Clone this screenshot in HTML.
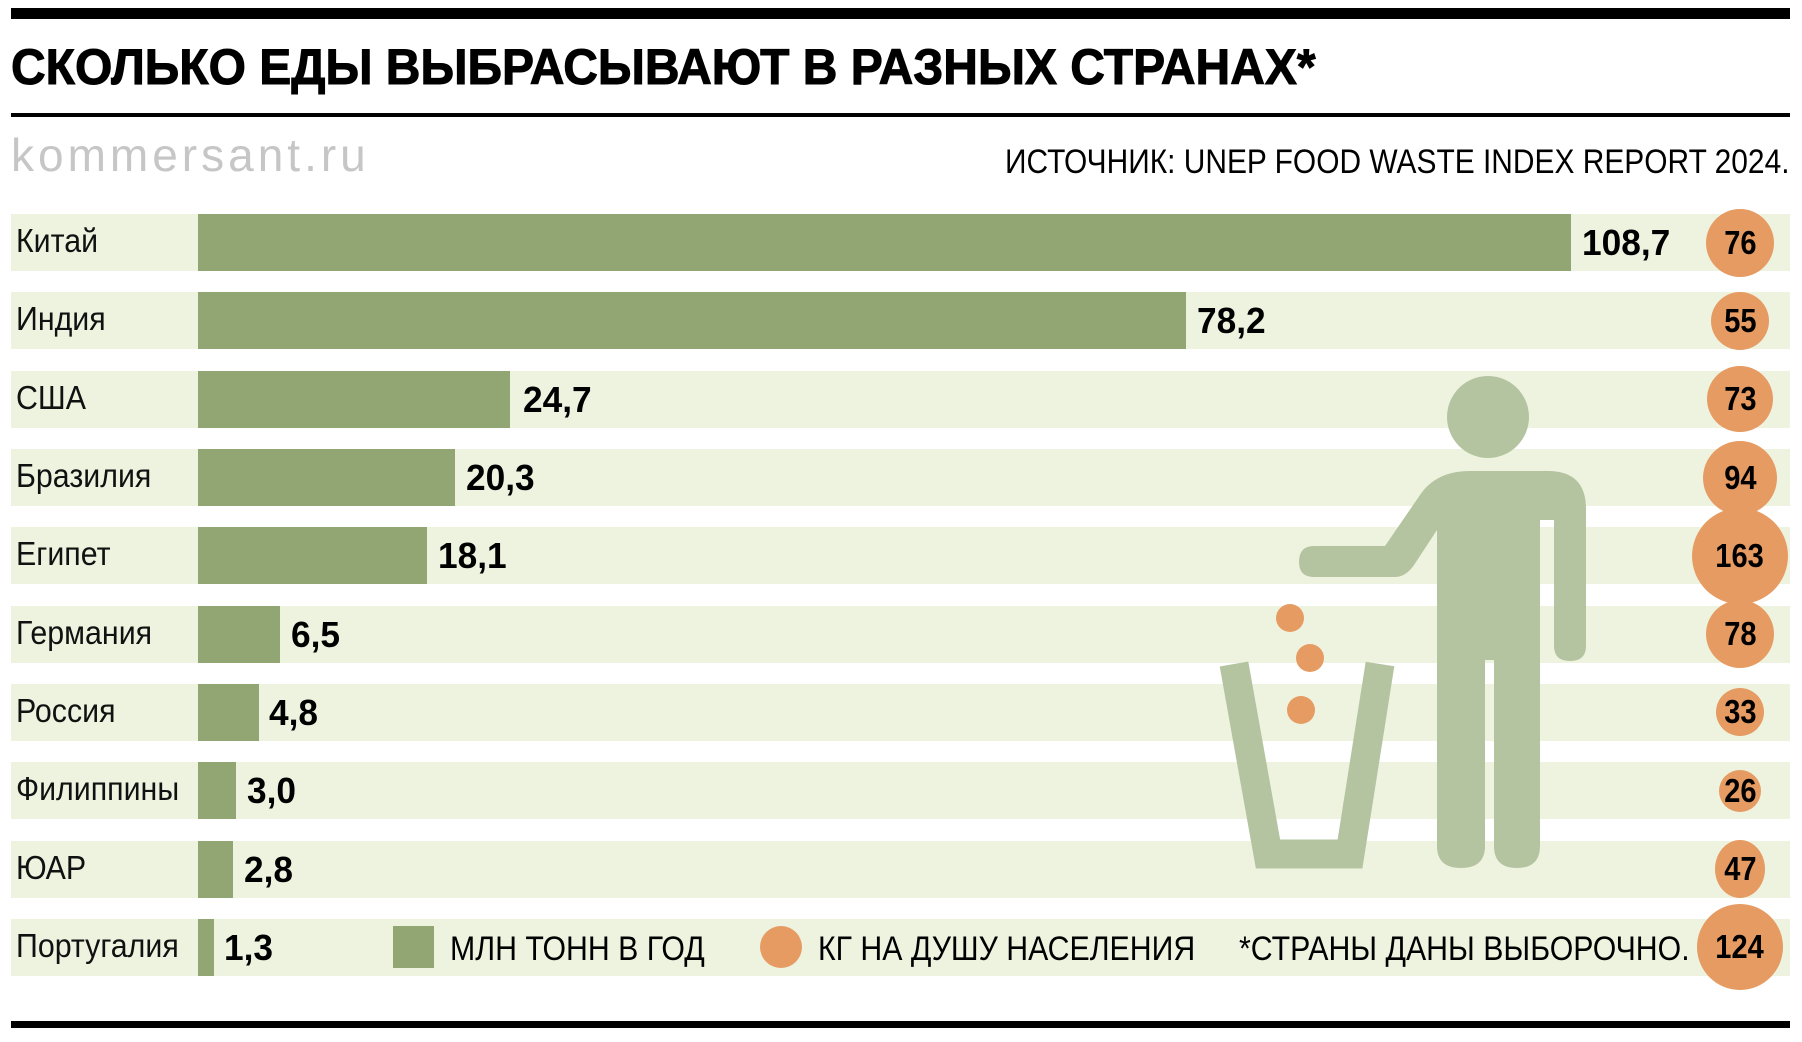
<!DOCTYPE html>
<html><head><meta charset="utf-8"><style>
body{margin:0;width:1802px;height:1042px;background:#fff;position:relative;overflow:hidden;font-family:"Liberation Sans",sans-serif}
.a{position:absolute}
.row{position:absolute;left:11px;width:1779px;height:57px;background:#eef3e0}
.lab{position:absolute;left:16px;font-size:33px;transform:scaleX(.92);transform-origin:left;color:#111;white-space:nowrap}
.bar{position:absolute;left:198px;height:57px;background:#91a673}
.val{position:absolute;font-size:36px;font-weight:bold;transform:scaleX(.98);transform-origin:left;white-space:nowrap}
.c{position:absolute;border-radius:50%;background:#e69b62;display:flex;align-items:center;justify-content:center;font-weight:bold;font-size:33px}
.c span{transform:scaleX(.88)}
.t{position:absolute;font-size:34px;transform:scaleX(.89);transform-origin:left;white-space:nowrap}
</style></head><body>
<div class="a" style="left:11px;top:8px;width:1779px;height:11px;background:#000"></div>
<div class="a" style="left:11px;top:38px;font-size:50px;font-weight:bold;transform:scaleX(.96);transform-origin:left;white-space:nowrap;-webkit-text-stroke:1px #000">СКОЛЬКО ЕДЫ ВЫБРАСЫВАЮТ В РАЗНЫХ СТРАНАХ*</div>
<div class="a" style="left:11px;top:113px;width:1779px;height:4px;background:#000"></div>
<div class="a" style="left:11px;top:128px;font-size:46px;color:#c6c6c6;letter-spacing:4px;white-space:nowrap">kommersant.ru</div>
<div class="a" style="right:12px;top:143px;font-size:34px;transform:scaleX(.88);transform-origin:right;white-space:nowrap">ИСТОЧНИК: UNEP FOOD WASTE INDEX REPORT 2024.</div>
<div class="a" style="left:11px;top:1021px;width:1779px;height:7px;background:#000"></div>

<div class="row" style="top:214px"></div>
<div class="row" style="top:292px"></div>
<div class="row" style="top:371px"></div>
<div class="row" style="top:449px"></div>
<div class="row" style="top:527px"></div>
<div class="row" style="top:606px"></div>
<div class="row" style="top:684px"></div>
<div class="row" style="top:762px"></div>
<div class="row" style="top:841px"></div>
<div class="row" style="top:919px"></div>

<svg class="a" style="left:0;top:0" width="1802" height="1042">
<g fill="#b5c4a0">
<circle cx="1488" cy="417" r="41"/>
<path d="M1470 471 H1548 Q1586 471 1586 509 V646 Q1586 661 1570 661 Q1554 661 1554 646 V520 H1540 V846 Q1540 868 1517 868 Q1494 868 1494 846 V660 H1485 V846 Q1485 868 1461 868 Q1437 868 1437 846 V530 L1416 562 Q1407 577 1395 577 H1314 Q1299 577 1299 562 Q1299 546 1314 546 H1385 L1420 495 Q1436 471 1470 471 Z"/>
</g>
<path d="M1234 664 L1268 854 H1350 L1380 664" fill="none" stroke="#b5c4a0" stroke-width="29"/>
<g fill="#e69b62"><circle cx="1290" cy="618" r="14"/><circle cx="1310" cy="658" r="14"/><circle cx="1301" cy="710" r="14"/></g>
</svg>

<div class="lab" style="top:222px">Китай</div>
<div class="lab" style="top:300px">Индия</div>
<div class="lab" style="top:379px">США</div>
<div class="lab" style="top:457px">Бразилия</div>
<div class="lab" style="top:535px">Египет</div>
<div class="lab" style="top:614px">Германия</div>
<div class="lab" style="top:692px">Россия</div>
<div class="lab" style="top:770px">Филиппины</div>
<div class="lab" style="top:849px">ЮАР</div>
<div class="lab" style="top:927px">Португалия</div>

<div class="bar" style="top:214px;width:1373px"></div><div class="val" style="top:222px;left:1582px">108,7</div>
<div class="bar" style="top:292px;width:988px"></div><div class="val" style="top:300px;left:1197px">78,2</div>
<div class="bar" style="top:371px;width:312px"></div><div class="val" style="top:379px;left:523px">24,7</div>
<div class="bar" style="top:449px;width:257px"></div><div class="val" style="top:457px;left:466px">20,3</div>
<div class="bar" style="top:527px;width:229px"></div><div class="val" style="top:535px;left:438px">18,1</div>
<div class="bar" style="top:606px;width:82px"></div><div class="val" style="top:614px;left:291px">6,5</div>
<div class="bar" style="top:684px;width:61px"></div><div class="val" style="top:692px;left:269px">4,8</div>
<div class="bar" style="top:762px;width:38px"></div><div class="val" style="top:770px;left:247px">3,0</div>
<div class="bar" style="top:841px;width:35px"></div><div class="val" style="top:849px;left:244px">2,8</div>
<div class="bar" style="top:919px;width:16px"></div><div class="val" style="top:927px;left:224px">1,3</div>

<div class="a" style="left:393px;top:926px;width:41px;height:42px;background:#91a673"></div>
<div class="t" style="left:450px;top:930px">МЛН ТОНН В ГОД</div>
<div class="a" style="left:760px;top:926px;width:42px;height:42px;border-radius:50%;background:#e69b62"></div>
<div class="t" style="left:818px;top:930px">КГ НА ДУШУ НАСЕЛЕНИЯ</div>
<div class="t" style="left:1239px;top:930px">*СТРАНЫ ДАНЫ ВЫБОРОЧНО.</div>

<div class="c" style="left:1706px;top:209px;width:68px;height:68px"><span>76</span></div>
<div class="c" style="left:1711px;top:292px;width:58px;height:58px"><span>55</span></div>
<div class="c" style="left:1707px;top:366px;width:66px;height:66px"><span>73</span></div>
<div class="c" style="left:1703px;top:441px;width:74px;height:74px"><span>94</span></div>
<div class="c" style="left:1692px;top:508px;width:96px;height:96px"><span>163</span></div>
<div class="c" style="left:1706px;top:600px;width:68px;height:68px"><span>78</span></div>
<div class="c" style="left:1716px;top:688px;width:48px;height:48px"><span>33</span></div>
<div class="c" style="left:1719px;top:770px;width:42px;height:42px"><span>26</span></div>
<div class="c" style="left:1715px;top:840px;width:50px;height:58px;border-radius:50%"><span>47</span></div>
<div class="c" style="left:1697px;top:904px;width:86px;height:86px"><span>124</span></div>
</body></html>
